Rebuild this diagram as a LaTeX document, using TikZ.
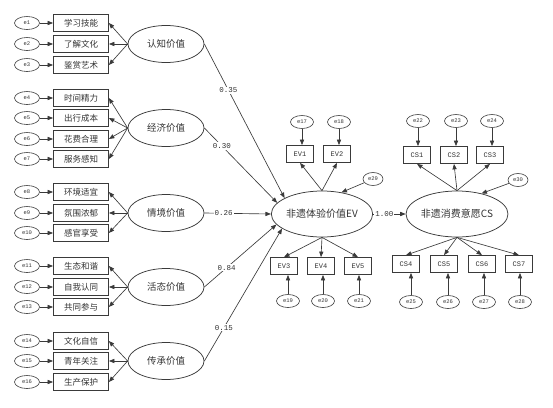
\documentclass[tikz,border=0pt]{standalone}
\usepackage{fontspec}
\setmainfont{Liberation Serif}
\newfontfamily\cjk{Noto Sans CJK SC}
\newfontfamily\mono{Liberation Mono}
\usetikzlibrary{shapes.geometric,arrows.meta}
\definecolor{ln}{HTML}{3A3A3A}
\definecolor{tx}{HTML}{333333}
\tikzset{
  every node/.style={text=tx},
  obs/.style={draw=ln, line width=0.75pt, rectangle, minimum width=55pt, minimum height=17pt, inner sep=0pt, font=\cjk\fontsize{8.5}{9}\selectfont},
  sobs/.style={draw=ln, line width=0.75pt, rectangle, minimum width=27pt, minimum height=17pt, inner sep=0pt, font=\mono\fontsize{7}{8}\selectfont},
  err/.style={draw=ln, line width=0.6pt, ellipse, minimum width=25pt, minimum height=13pt, inner sep=0pt, font=\mono\fontsize{5.5}{6}\selectfont},
  serr/.style={draw=ln, line width=0.6pt, ellipse, minimum width=23pt, minimum height=13pt, inner sep=0pt, font=\mono\fontsize{5.5}{6}\selectfont},
  lat/.style={draw=ln, line width=0.75pt, ellipse, minimum width=76pt, minimum height=37pt, inner sep=0pt, font=\cjk\fontsize{9.5}{10}\selectfont},
  big/.style={draw=ln, line width=0.75pt, ellipse, minimum width=96pt, minimum height=46pt, inner sep=0pt, font=\cjk\fontsize{10}{11}\selectfont},
  arr/.style={draw=ln, line width=0.65pt, -{Triangle[length=5.5pt,width=4.2pt]}},
  coef/.style={fill=white, inner sep=1pt, font=\mono\fontsize{7.5}{8}\selectfont},
}
\begin{document}
\begin{tikzpicture}[x=1pt,y=-1pt]
\useasboundingbox (0,0) rectangle (553,407);
% ---------- left observed groups ----------
% group 1
\node[lat] (L1) at (166,44) {认知价值};
\node[obs] (b1) at (81,23) {学习技能};
\node[obs] (b2) at (81,44) {了解文化};
\node[obs] (b3) at (81,65) {鉴赏艺术};
\node[err] (e1) at (27,23) {e1};
\node[err] (e2) at (27,44) {e2};
\node[err] (e3) at (27,65) {e3};
% group 2
\node[lat] (L2) at (166,128) {经济价值};
\node[obs] (b4) at (81,98) {时间精力};
\node[obs] (b5) at (81,118) {出行成本};
\node[obs] (b6) at (81,139) {花费合理};
\node[obs] (b7) at (81,159) {服务感知};
\node[err] (e4) at (27,98) {e4};
\node[err] (e5) at (27,118) {e5};
\node[err] (e6) at (27,139) {e6};
\node[err] (e7) at (27,159) {e7};
% group 3
\node[lat] (L3) at (166,213) {情境价值};
\node[obs] (b8) at (81,192) {环境适宜};
\node[obs] (b9) at (81,213) {氛围浓郁};
\node[obs] (b10) at (81,233) {感官享受};
\node[err] (e8) at (27,192) {e8};
\node[err] (e9) at (27,213) {e9};
\node[err] (e10) at (27,233) {e10};
% group 4
\node[lat] (L4) at (166,287) {活态价值};
\node[obs] (b11) at (81,266) {生态和谐};
\node[obs] (b12) at (81,287) {自我认同};
\node[obs] (b13) at (81,307) {共同参与};
\node[err] (e11) at (27,266) {e11};
\node[err] (e12) at (27,287) {e12};
\node[err] (e13) at (27,307) {e13};
% group 5
\node[lat] (L5) at (166,361) {传承价值};
\node[obs] (b14) at (81,341) {文化自信};
\node[obs] (b15) at (81,361) {青年关注};
\node[obs] (b16) at (81,382) {生产保护};
\node[err] (e14) at (27,341) {e14};
\node[err] (e15) at (27,361) {e15};
\node[err] (e16) at (27,382) {e16};
\foreach \i in {1,...,16} {\draw[arr] (e\i) -- (b\i);}
\foreach \i in {1,2,3} {\draw[arr] (L1.west) -- (b\i.east);}
\foreach \i in {4,5,6,7} {\draw[arr] (L2.west) -- (b\i.east);}
\foreach \i in {8,9,10} {\draw[arr] (L3.west) -- (b\i.east);}
\foreach \i in {11,12,13} {\draw[arr] (L4.west) -- (b\i.east);}
\foreach \i in {14,15,16} {\draw[arr] (L5.west) -- (b\i.east);}
% ---------- EV ----------
\node[big] (EV) at (322,214) {非遗体验价值EV};
\node[sobs] (EV1) at (300,154) {EV1};
\node[sobs] (EV2) at (337,154) {EV2};
\node[serr] (e17) at (302,122) {e17};
\node[serr] (e18) at (339,122) {e18};
\node[serr, minimum width=20pt] (e29) at (373,179) {e29};
\node[sobs] (EV3) at (284,266) {EV3};
\node[sobs] (EV4) at (321,266) {EV4};
\node[sobs] (EV5) at (358,266) {EV5};
\node[serr] (e19) at (288,301) {e19};
\node[serr] (e20) at (323,301) {e20};
\node[serr] (e21) at (359,301) {e21};
\draw[arr] (e17.south) -- (e17.south |- EV1.north);
\draw[arr] (e18.south) -- (e18.south |- EV2.north);
\draw[arr] (e19.north) -- (e19.north |- EV3.south);
\draw[arr] (e20.north) -- (e20.north |- EV4.south);
\draw[arr] (e21.north) -- (e21.north |- EV5.south);
\draw[arr] (EV.north) -- (EV1.south);
\draw[arr] (EV.north) -- (EV2.south);
\draw[arr] (EV.south) -- (EV3.north);
\draw[arr] (EV.south) -- (EV4.north);
\draw[arr] (EV.south) -- (EV5.north);
\draw[arr] (e29) -- (EV.48);
% structural paths
\draw[arr] (L1.east) -- node[coef, pos=0.30] {0.35} (EV.157);
\draw[arr] (L2.east) -- node[coef, pos=0.24] {0.30} (EV.166);
\draw[arr] (L3.east) -- node[coef, pos=0.29] {0.26} (EV.180);
\draw[arr] (L4.east) -- node[coef, pos=0.31] {0.84} (EV.193);
\draw[arr] (L5.east) -- node[coef, pos=0.25] {0.15} (EV.200);
% ---------- CS ----------
\node[big] (CS) at (457,214) {非遗消费意愿CS};
\node[sobs] (CS1) at (417,155) {CS1};
\node[sobs] (CS2) at (454,155) {CS2};
\node[sobs] (CS3) at (490,155) {CS3};
\node[serr] (e22) at (418,121) {e22};
\node[serr] (e23) at (456,121) {e23};
\node[serr] (e24) at (492,121) {e24};
\node[serr, minimum width=20pt] (e30) at (518,180) {e30};
\node[sobs] (CS4) at (406,264) {CS4};
\node[sobs] (CS5) at (444,264) {CS5};
\node[sobs] (CS6) at (482,264) {CS6};
\node[sobs] (CS7) at (519,264) {CS7};
\node[serr] (e25) at (411,302) {e25};
\node[serr] (e26) at (448,302) {e26};
\node[serr] (e27) at (484,302) {e27};
\node[serr] (e28) at (520,302) {e28};
\draw[arr] (e22.south) -- (e22.south |- CS1.north);
\draw[arr] (e23.south) -- (e23.south |- CS2.north);
\draw[arr] (e24.south) -- (e24.south |- CS3.north);
\draw[arr] (e25.north) -- (e25.north |- CS4.south);
\draw[arr] (e26.north) -- (e26.north |- CS5.south);
\draw[arr] (e27.north) -- (e27.north |- CS6.south);
\draw[arr] (e28.north) -- (e28.north |- CS7.south);
\draw[arr] (CS.north) -- (CS1.south);
\draw[arr] (CS.north) -- (CS2.south);
\draw[arr] (CS.north) -- (CS3.south);
\draw[arr] (CS.south) -- (CS4.north);
\draw[arr] (CS.south) -- (CS5.north);
\draw[arr] (CS.south) -- (CS6.north);
\draw[arr] (CS.south) -- (CS7.north);
\draw[arr] (e30) -- (CS.40);
\draw[arr] (EV.east) -- node[coef, pos=0.35] {1.00} (CS.west);
\end{tikzpicture}
\end{document}
